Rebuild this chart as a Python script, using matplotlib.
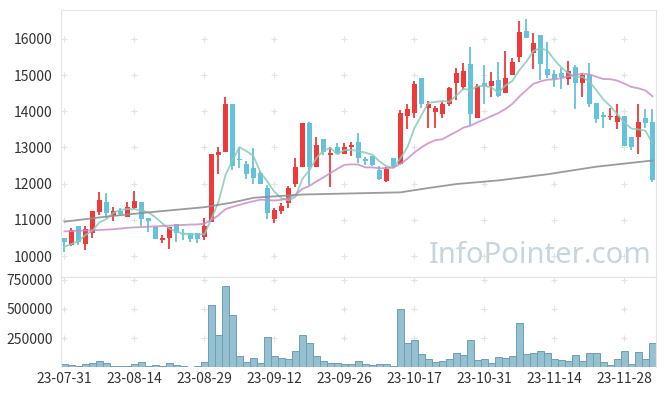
import matplotlib.pyplot as plt
import numpy as np
import pandas as pd

# daily candles, 85 trading days
opens = [10500, 10300, 10830, 10320, 10630, 11230, 11490, 11110, 11250, 11090,
         11340, 11490, 11050, 10810, 10450, 10490, 10880, 10640, 10640, 10630,
         10530, 10950, 12800, 12880, 14200, 12680, 12540, 12430, 12290, 11870,
         11020, 11250, 11460, 11990, 12450, 13690, 12450, 13230, 12790, 13010,
         12830, 13010, 13140, 12670, 12770, 12380, 12080, 12700, 12540, 13880,
         13960, 14910, 14100, 13990, 13930, 14200, 14790, 14680, 15300, 13810,
         14790, 14700, 14870, 14520, 15010, 15490, 16220, 15620, 16110, 15160,
         15020, 15050, 14890, 15220, 14790, 15010, 14220, 13900, 13830, 13710,
         13870, 13280, 13280, 13810, 13700]
highs = [10500, 10770, 10830, 10830, 11240, 11760, 11730, 11350, 11320, 11490,
         11800, 11490, 11050, 10810, 10580, 10810, 10880, 10750, 10640, 10630,
         11040, 12820, 13020, 14400, 14200, 13020, 12640, 12980, 12350, 11960,
         11320, 11470, 11940, 12700, 13690, 13710, 13280, 13230, 13020, 13130,
         13130, 13140, 13390, 12730, 12770, 12490, 12470, 12720, 14040, 14200,
         14840, 14910, 14290, 14150, 14250, 14680, 15210, 15330, 15790, 14750,
         15280, 15100, 15360, 15670, 15470, 16500, 16540, 16160, 16110, 15910,
         15140, 15190, 15400, 15280, 15050, 15330, 14220, 13970, 14080, 14200,
         13870, 13280, 14200, 14070, 14070]
lows = [10110, 10270, 10310, 10170, 10490, 11140, 11040, 10970, 11110, 11090,
        11290, 10840, 10660, 10480, 10370, 10190, 10380, 10440, 10400, 10350,
        10440, 10950, 12260, 12880, 12380, 12430, 12130, 11990, 11980, 11020,
        10900, 11150, 11340, 11920, 12450, 11960, 12450, 12790, 11900, 12820,
        12830, 12770, 12560, 12520, 12480, 12100, 12050, 12470, 12540, 13510,
        13820, 14080, 13550, 13550, 13810, 14150, 14310, 14600, 13620, 13810,
        14200, 14400, 14400, 14520, 15010, 15370, 16020, 15160, 14870, 14910,
        14680, 14610, 14730, 14060, 14390, 14110, 13670, 13530, 13760, 13500,
        13050, 12930, 12820, 13530, 12040]
closes = [10400, 10720, 10400, 10750, 11240, 11550, 11180, 11240, 11170, 11360,
          11520, 11020, 10970, 10480, 10500, 10810, 10630, 10600, 10470, 10470,
          10830, 12820, 12870, 14200, 12500, 12650, 12280, 12170, 11980, 11180,
          11270, 11380, 11870, 12470, 13690, 12450, 13070, 12880, 12860, 12820,
          13020, 13080, 12720, 12640, 12520, 12130, 12410, 12500, 13950, 14070,
          14750, 14200, 14200, 14080, 14200, 14640, 15070, 15120, 13920, 14700,
          14700, 14850, 14410, 14910, 15350, 16190, 16020, 15880, 15300, 15010,
          14890, 14960, 15120, 14790, 15010, 14200, 13790, 13830, 13870, 13870,
          13050, 13010, 13700, 13690, 12100]
volumes = [28500, 17000, 8500, 28500, 37000, 57000, 37000, 11400, 11400, 11400,
           28500, 45600, 11400, 20000, 11400, 37000, 20000, 11400, 3000, 11400,
           45600, 533000, 276000, 695000, 448000, 97000, 45600, 80000, 37000, 259000,
           97000, 80000, 71000, 140000, 276000, 208000, 97000, 54000, 37000, 37000,
           28500, 28500, 54000, 28500, 20000, 28500, 28500, 11400, 499000, 208000,
           234000, 114000, 71000, 45600, 54000, 71000, 123000, 105000, 234000, 63000,
           71000, 37000, 88000, 80000, 97000, 379000, 114000, 123000, 140000, 123000,
           71000, 63000, 54000, 105000, 54000, 123000, 123000, 45600, 20000, 71000,
           140000, 28500, 131000, 71000, 208000]

# averages whose window reaches back before the first candle
ma5_head = [10260, 10330, 10420, 10580]
ma20_head = [10680, 10690, 10700, 10705, 10710, 10720, 10730, 10740, 10760, 10780,
             10790, 10800, 10810, 10820, 10830, 10840, 10850, 10860, 10870]
ma120_idx = [0, 6, 13, 20, 24, 27, 34, 41, 48, 52, 56, 62, 69, 76, 84]
ma120_val = [10950, 11090, 11225, 11350, 11480, 11610, 11700, 11730, 11760,
             11880, 11990, 12090, 12260, 12470, 12640]

tick_pos = [0, 10, 20, 30, 40, 50, 60, 70, 80]
tick_labels = ['23-07-31', '23-08-14', '23-08-29', '23-09-12', '23-09-26',
               '23-10-17', '23-10-31', '23-11-14', '23-11-28']
price_ticks = [10000, 11000, 12000, 13000, 14000, 15000, 16000]
vol_ticks = [250000, 500000, 750000]

plt.rcParams['font.family'] = ['Noto Sans CJK KR', 'DejaVu Sans']

fig = plt.figure(figsize=(6.65, 3.96), dpi=100)
ax = fig.add_axes([0.0917, 0.3005, 0.8947, 0.6742])
axv = fig.add_axes([0.0917, 0.072, 0.8947, 0.2285], sharex=ax)

x = np.arange(len(closes))
o = np.array(opens)
c = np.array(closes)
col = np.where(c >= o, '#ee3a3a', '#64c2dc')

ax.vlines(x, lows, highs, color=col, lw=1.3, zorder=3)
ax.bar(x, np.maximum(np.abs(c - o), 25), bottom=np.minimum(o, c), width=0.72,
       color=col, zorder=4)

s = pd.Series(closes)
ma5 = s.rolling(5).mean().to_numpy()
ma5[:len(ma5_head)] = ma5_head
ma20 = s.rolling(20).mean().to_numpy()
ma20[:len(ma20_head)] = ma20_head
ax.plot(x, ma5, color='#86cbb8', lw=1.3, alpha=0.85, zorder=5)
ax.plot(x, ma20, color='#c98ec6', lw=1.3, alpha=0.85, zorder=5)
ax.plot(ma120_idx, ma120_val, color='#909090', lw=1.3, alpha=0.9, zorder=5)

axv.bar(x, volumes, width=1.0, color='#95c0d0', edgecolor='#6e9fb6', lw=0.7)

# little grid crosses
gx, gy = np.meshgrid(tick_pos, price_ticks)
ax.scatter(gx.ravel(), gy.ravel(), marker='+', s=18, color='#e2e2e2', lw=0.8, zorder=1)
gx, gy = np.meshgrid(tick_pos, vol_ticks)
axv.scatter(gx.ravel(), gy.ravel(), marker='+', s=18, color='#e2e2e2', lw=0.8, zorder=0)

ax.set_xlim(-0.5, 84.5)
ax.set_ylim(9420, 16800)
ax.set_yticks(price_ticks)
axv.set_ylim(0, 772000)
axv.set_yticks(vol_ticks)
axv.set_yticklabels([str(v) for v in vol_ticks])
axv.set_xticks(tick_pos)
axv.set_xticklabels(tick_labels)
ax.tick_params(axis='x', labelbottom=False, length=0)

for a in (ax, axv):
    a.tick_params(length=0, labelsize=10, colors='#333333', pad=6)
    for sp in a.spines.values():
        sp.set_color('#e4e4e4')
axv.spines['bottom'].set_visible(False)
axv.tick_params(axis='x', pad=3)

ax.text(0.806, 0.08, 'InfoPointer.com', transform=ax.transAxes, ha='center',
        va='center', fontsize=21, color='#c6d6e0', family=['Noto Sans', 'DejaVu Sans'])

fig.savefig('out.png', dpi=100)
